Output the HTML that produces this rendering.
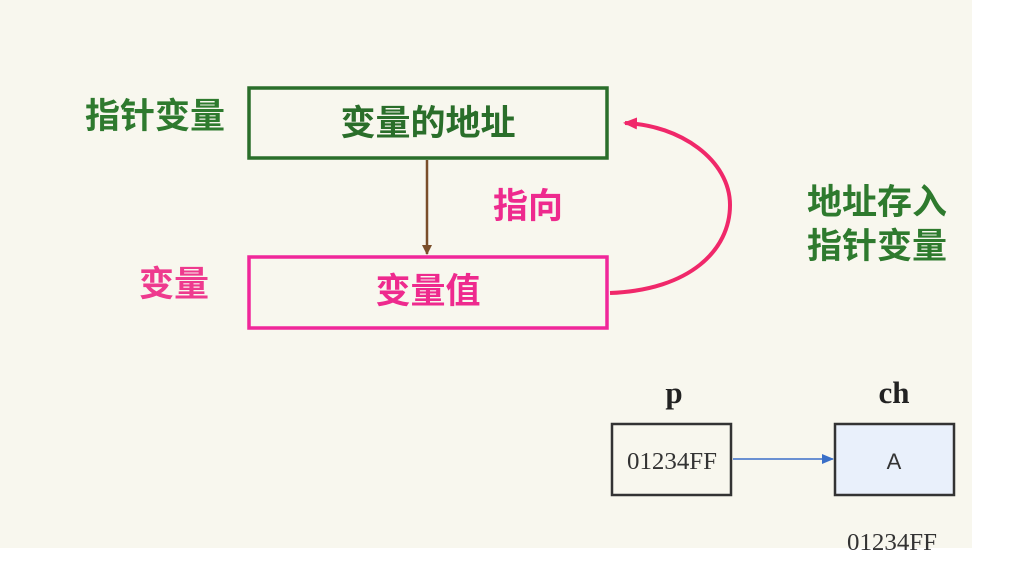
<!DOCTYPE html>
<html><head><meta charset="utf-8"><style>
html,body{margin:0;padding:0;background:#fff;}
svg{display:block;}
text{font-family:"Liberation Sans","Noto Sans CJK SC","WenQuanYi Zen Hei",sans-serif;font-weight:bold;}
.serif{font-family:"Liberation Serif",serif;}
</style></head><body>
<svg width="1015" height="568" viewBox="0 0 1015 568" xmlns="http://www.w3.org/2000/svg">
<defs>
<marker id="mb" markerWidth="10" markerHeight="10" refX="9" refY="5" orient="auto" markerUnits="userSpaceOnUse"><path d="M0,0 L10,5 L0,10 z" fill="#7a4e2a"/></marker>
<marker id="mp" markerWidth="14" markerHeight="12" refX="12" refY="6" orient="auto" markerUnits="userSpaceOnUse"><path d="M0,0 L14,6 L0,12 z" fill="#f0286a"/></marker>
<marker id="mbl" markerWidth="12" markerHeight="10" refX="11" refY="5" orient="auto" markerUnits="userSpaceOnUse"><path d="M0,0 L12,5 L0,10 z" fill="#3a6fc8"/></marker>
</defs>
<rect x="0" y="0" width="972" height="548" fill="#f8f7ee"/>
<rect x="249" y="88" width="358" height="70" fill="none" stroke="#2a6e2a" stroke-width="3.5"/>
<text x="428" y="135" font-size="35" fill="#2a6e2a" text-anchor="middle">变量的地址</text>
<text x="155" y="128" font-size="35" fill="#2e7a2e" text-anchor="middle">指针变量</text>
<line x1="427" y1="160" x2="427" y2="254" stroke="#7a4e2a" stroke-width="2.5" marker-end="url(#mb)"/>
<rect x="249" y="257" width="358" height="71" fill="none" stroke="#f0279a" stroke-width="3.5"/>
<text x="428" y="303" font-size="35" fill="#ee2a8e" text-anchor="middle">变量值</text>
<text x="174" y="296" font-size="35" fill="#ee3a8e" text-anchor="middle">变量</text>
<text x="528" y="218" font-size="35" fill="#ee2a8e" text-anchor="middle">指向</text>
<path d="M610,293 C690,290 730,250 730,205 C730,160 680,125 625,123" fill="none" stroke="#f0286a" stroke-width="4" marker-end="url(#mp)"/>
<text x="877" y="214" font-size="35" fill="#2e7a2e" text-anchor="middle">地址存入</text>
<text x="877" y="258" font-size="35" fill="#2e7a2e" text-anchor="middle">指针变量</text>
<text x="674" y="403" font-size="31" fill="#222" text-anchor="middle" class="serif">p</text>
<text x="894" y="403" font-size="31" fill="#222" text-anchor="middle" class="serif">ch</text>
<rect x="612" y="424" width="119" height="71" fill="none" stroke="#333" stroke-width="2.5"/>
<text x="627" y="469" font-size="24" fill="#333" class="serif" style="font-weight:normal" textLength="90" lengthAdjust="spacingAndGlyphs">01234FF</text>
<rect x="835" y="424" width="119" height="71" fill="#e9f0fb" stroke="#333" stroke-width="2.5"/>
<text x="894" y="469" font-size="22" fill="#333" text-anchor="middle" style="font-weight:normal">A</text>
<line x1="733" y1="459" x2="833" y2="459" stroke="#3a6fc8" stroke-width="1.5" marker-end="url(#mbl)"/>
<text x="847" y="550" font-size="24" fill="#333" class="serif" style="font-weight:normal" textLength="90" lengthAdjust="spacingAndGlyphs">01234FF</text>
</svg>
</body></html>
